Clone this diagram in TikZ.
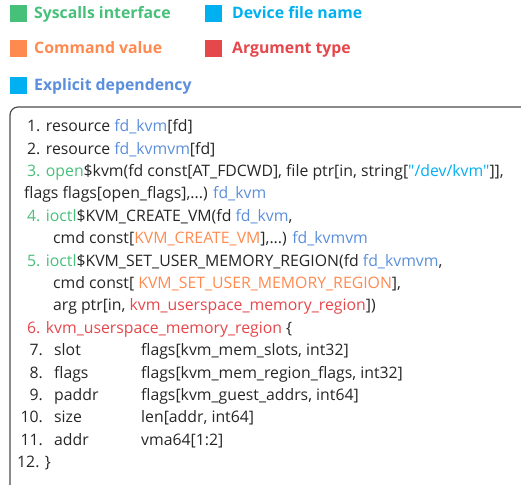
\documentclass[tikz,border=0pt]{standalone}
\usepackage{fontspec}
\setmainfont{Open Sans}
\usepackage{tikz}

\definecolor{sysgreen}{HTML}{47C07A}
\definecolor{devblue}{HTML}{00B0F0}
\definecolor{cmdorange}{HTML}{FF8A50}
\definecolor{argred}{HTML}{E5474B}
\definecolor{depblue}{HTML}{5B8FDB}
\definecolor{textgray}{HTML}{262626}

\tikzset{
  legbox/.style={minimum size=17pt, inner sep=0pt},
  legtext/.style={anchor=base west, inner sep=0pt, font=\fontsize{15.8}{17}\selectfont\bfseries},
  codeline/.style={anchor=base west, inner sep=0pt, text=textgray, font=\fontsize{15.8}{18}\selectfont},
  codenum/.style={anchor=base east, inner sep=0pt, text=textgray, font=\fontsize{15.8}{18}\selectfont}
}

\begin{document}
\begin{tikzpicture}[x=1pt, y=-1pt]
        \useasboundingbox (0,0) rectangle (521,484);

        % Legende
        \node[legbox, fill=sysgreen] (sqsys) at (18,14) {};
        \node[legtext, text=sysgreen] (lgsys) at (34,19) {Syscalls interface};
        \node[legbox, fill=devblue] (sqdev) at (213,14) {};
        \node[legtext, text=devblue] (lgdev) at (232,19) {Device file name};
        \node[legbox, fill=cmdorange] (sqcmd) at (18,49) {};
        \node[legtext, text=cmdorange] (lgcmd) at (34,54) {Command value};
        \node[legbox, fill=argred] (sqarg) at (213,49) {};
        \node[legtext, text=argred] (lgarg) at (232,54) {Argument type};
        \node[legbox, fill=devblue] (sqdep) at (18,86) {};
        \node[legtext, text=depblue] (lgdep) at (34,91) {Explicit dependency};

        % Kutu
        \begin{scope}
          \clip (0,0) rectangle (521,484);
          \draw[line width=1.2pt, draw=black!70, rounded corners=8pt] (10,500) -- (10,107) -- (540,107);
        \end{scope}

        % Satirlar
        \node[codeline] (l1) at (27,131) {1. resource \textcolor{depblue}{fd\_kvm}[fd]};
        \node[codeline] (l2) at (27,154) {2. resource \textcolor{depblue}{fd\_kvmvm}[fd]};
        \node[codeline] (l3) at (27,176) {\textcolor{sysgreen}{3. open}\$kvm(fd const[AT\_FDCWD], file ptr[in, string[\textcolor{devblue}{\textquotedbl/dev/kvm\textquotedbl}]],};
        \node[codeline] (l4) at (24,198) {flags flags[open\_flags],...) \textcolor{depblue}{fd\_kvm}};
        \node[codeline] (l5) at (27,221) {\textcolor{sysgreen}{4. ioctl}\$KVM\_CREATE\_VM(fd \textcolor{depblue}{fd\_kvm},};
        \node[codeline] (l6) at (53,243) {cmd const[\textcolor{cmdorange}{KVM\_CREATE\_VM}],...) \textcolor{depblue}{fd\_kvmvm}};
        \node[codeline] (l7) at (27,266) {\textcolor{sysgreen}{5. ioctl}\$KVM\_SET\_USER\_MEMORY\_REGION(fd \textcolor{depblue}{fd\_kvmvm},};
        \node[codeline] (l8) at (53,288) {cmd const[ \textcolor{cmdorange}{KVM\_SET\_USER\_MEMORY\_REGION}],};
        \node[codeline] (l9) at (53,310) {arg ptr[in, \textcolor{argred}{kvm\_userspace\_memory\_region}])};
        \node[codeline, text=argred] (l10) at (27,333) {6. kvm\_userspace\_memory\_region \textcolor{textgray}{\{}};

        % Alanlar
        \node[codenum] (n7) at (43,355) {7.};
        \node[codeline] (f7) at (54,355) {slot};
        \node[codeline] (t7) at (141,355) {flags[kvm\_mem\_slots, int32]};
        \node[codenum] (n8) at (43,378) {8.};
        \node[codeline] (f8) at (54,378) {flags};
        \node[codeline] (t8) at (141,378) {flags[kvm\_mem\_region\_flags, int32]};
        \node[codenum] (n9) at (43,400) {9.};
        \node[codeline] (f9) at (54,400) {paddr};
        \node[codeline] (t9) at (141,400) {flags[kvm\_guest\_addrs, int64]};
        \node[codenum] (n10) at (43,422) {10.};
        \node[codeline] (f10) at (54,422) {size};
        \node[codeline] (t10) at (141,422) {len[addr, int64]};
        \node[codenum] (n11) at (43,445) {11.};
        \node[codeline] (f11) at (54,445) {addr};
        \node[codeline] (t11) at (141,445) {vma64[1:2]};
        \node[codeline] (l12) at (17,467) {12. \}};
\end{tikzpicture}
\end{document}
